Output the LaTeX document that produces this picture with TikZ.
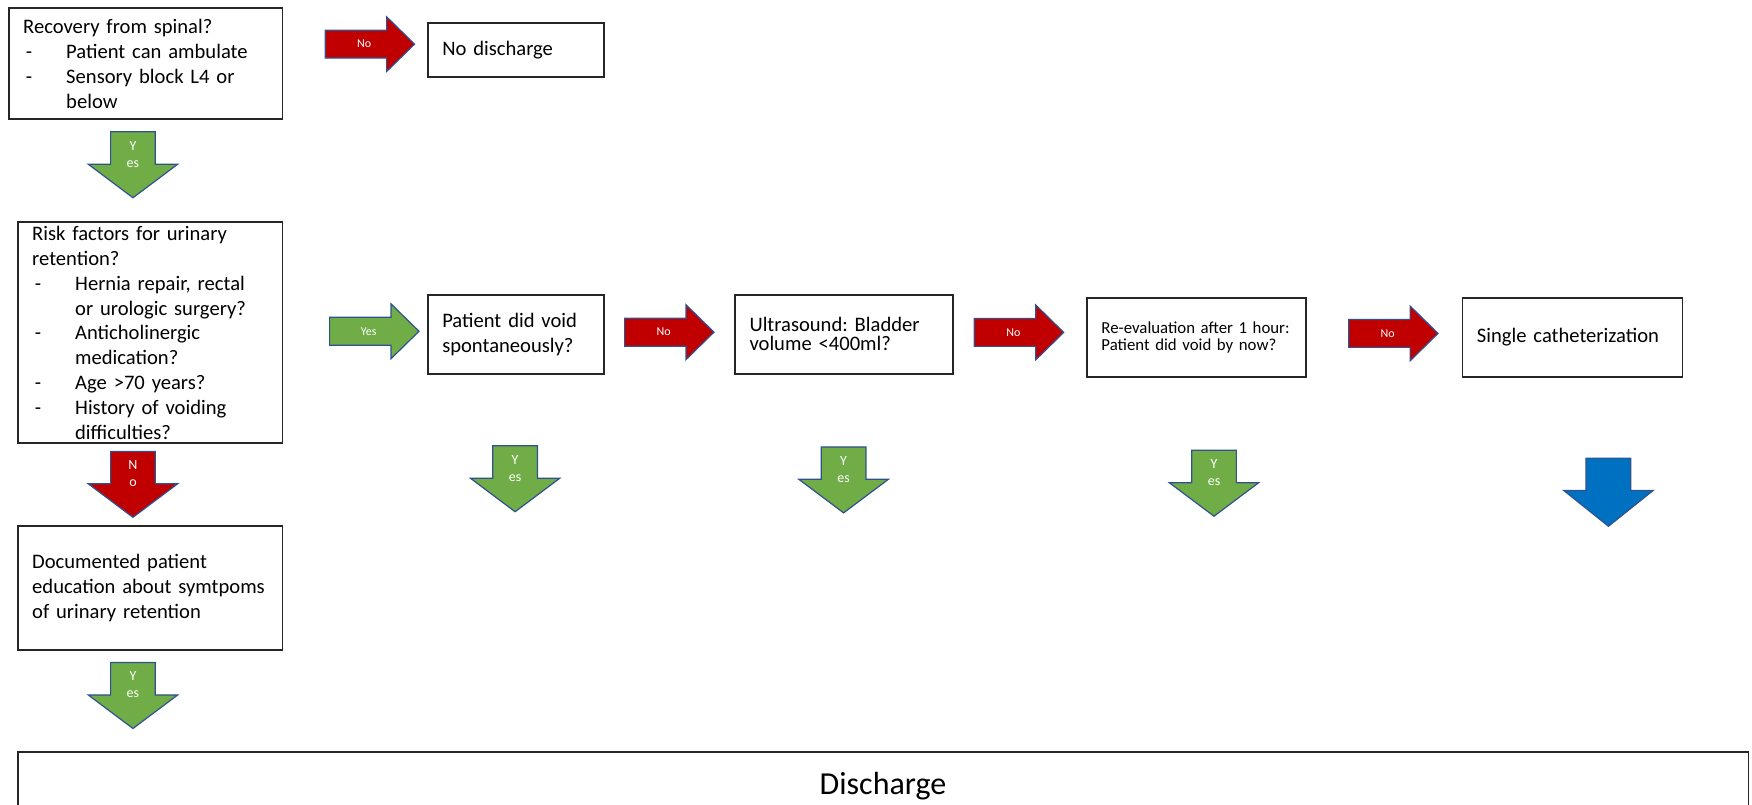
\documentclass[tikz,border=0pt]{standalone}
\usepackage{fontspec}
\setmainfont{Carlito}
\frenchspacing
\newdimen\un
\un=0.5587pt
\definecolor{noRed}{HTML}{C00000}
\definecolor{yesGreen}{HTML}{70AD47}
\definecolor{goBlue}{HTML}{0070C0}
\definecolor{shapeEdge}{HTML}{2F528F}
\newcommand\boxfont{\fontsize{10.3}{12.4}\selectfont}
\newcommand\itm[1]{\makebox[21.5pt][l]{\hspace{1.3pt}-}#1}
\newcommand\cnt[1]{\hspace*{21.5pt}#1}

\tikzset{
  flowbox/.style={draw=black!85, line width=0.9pt, fill=white, anchor=north west,
    inner xsep=13\un, inner ysep=0pt, align=left, font=\boxfont},
  arrowlabel/.style={text=white, inner sep=0pt, align=center},
  blockshape/.style={fill=#1, draw=shapeEdge, line width=0.6pt},
  pics/rightarrow/.style args={#1/#2}{code={
    \filldraw[blockshape=#1]
      (-40,-12.5) -- (15,-12.5) -- (15,-24.5) -- (40,0) -- (15,24.5) -- (15,12.5) -- (-40,12.5) -- cycle;
    \node[arrowlabel, font=\fontsize{6}{7}\selectfont] (-label) at (-5,0) {#2};
  }},
  pics/downarrow/.style args={#1/#2}{code={
    \filldraw[blockshape=#1]
      (-20,0) -- (20,0) -- (20,29) -- (40,29) -- (0,59) -- (-40,29) -- (-20,29) -- cycle;
    \node[arrowlabel, font=\fontsize{7}{8.5}\selectfont] (-label) at (0,20) {#2};
  }},
  pics/plaindown/.style={code={
    \filldraw[blockshape=#1]
      (-20,0) -- (20,0) -- (20,29) -- (40,29) -- (0,61) -- (-40,29) -- (-20,29) -- cycle;
  }},
}

\begin{document}
\begin{tikzpicture}[x=0.5587pt, y=-0.5587pt]
\useasboundingbox (0,0) rectangle (1568,720);
\clip (0,0) rectangle (1568,720);

% left column
\node[flowbox, minimum width=245\un, minimum height=99.5\un, text width=219\un] (rec) at (7,6.5)
  {Recovery from spinal?\\ \itm{Patient can ambulate}\\ \itm{Sensory block L4 or}\\ \cnt{below}};
\node[flowbox, minimum width=158\un, minimum height=48.5\un, text width=132\un] (nodis) at (382,19.5)
  {No discharge};
\node[flowbox, minimum width=237\un, minimum height=198\un, text width=211\un] (risk) at (15,198)
  {Risk factors for urinary\\ retention?\\ \itm{Hernia repair, rectal}\\ \cnt{or urologic surgery?}\\
   \itm{Anticholinergic}\\ \cnt{medication?}\\ \itm{Age >70 years?}\\ \itm{History of voiding}\\ \cnt{difficulties?}};
\node[flowbox, minimum width=237\un, minimum height=111\un, text width=211\un] (doc) at (15,470)
  {Documented patient\\ education about symtpoms\\ of urinary retention};

% decision row
\node[flowbox, minimum width=158\un, minimum height=70.6\un, text width=132\un] (void) at (382,263)
  {Patient did void\\ spontaneously?};
\node[flowbox, minimum width=195\un, minimum height=70.6\un, text width=169\un, font=\fontsize{10.3}{9.6}\selectfont] (us) at (657,263)
  {Ultrasound: Bladder\\ volume <400ml?};
\node[flowbox, minimum width=196\un, minimum height=70.5\un, text width=184\un, inner xsep=6\un,
  font=\fontsize{8.4}{8.4}\selectfont] (reev) at (972,266)
  {\hspace*{7\un}Re-evaluation after 1 hour:\\ \hspace*{7\un}Patient did void by now?};
\node[flowbox, minimum width=197\un, minimum height=70.5\un, text width=171\un] (cath) at (1308,266)
  {Single catheterization};

% final box, open at the bottom edge
\node[flowbox, align=center, minimum width=1549\un, minimum height=62\un, text width=1523\un,
  font=\fontsize{16}{19}\selectfont] (dis) at (15,672) {Discharge};

% block arrows
\pic (nar1) at (331,39.5) {rightarrow={noRed/No}};
\pic (yar1) at (119,118) {downarrow={yesGreen/Y\\es}};
\pic (nar0) at (119,404) {downarrow={noRed/N\\o}};
\pic (yar3) at (119,593) {downarrow={yesGreen/Y\\es}};
\pic (yar2) at (335,296.5) {rightarrow={yesGreen/Yes}};
\pic (nar2) at (599,297.3) {rightarrow={noRed/No}};
\pic (nar3) at (912,297.5) {rightarrow={noRed/No}};
\pic (nar4) at (1247,298.4) {rightarrow={noRed/No}};
\pic (yvoid) at (461,399) {downarrow={yesGreen/Y\\es}};
\pic (yus) at (755,400) {downarrow={yesGreen/Y\\es}};
\pic (yre) at (1086.5,403) {downarrow={yesGreen/Y\\es}};
\pic (bcath) at (1439.5,410) {plaindown=goBlue};
\end{tikzpicture}
\end{document}
